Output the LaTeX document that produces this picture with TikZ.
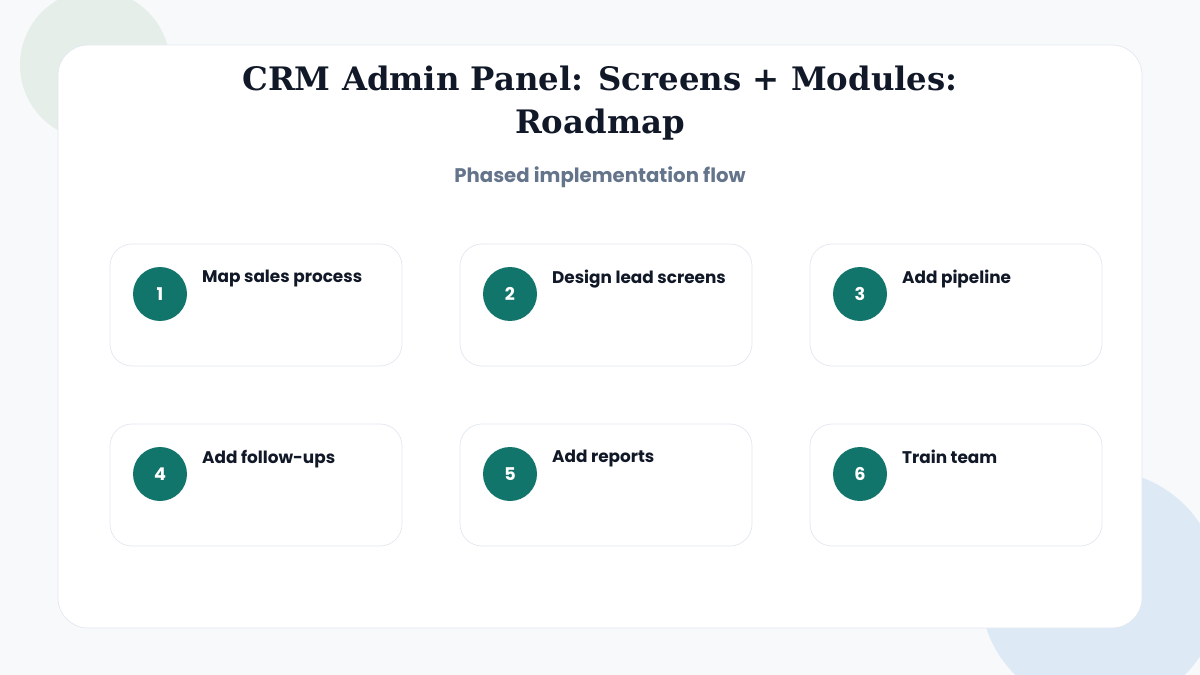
\documentclass[tikz,border=0pt]{standalone}
\usepackage{fontspec}
\setmainfont{DejaVu Serif}
\newfontfamily\cardfont{Poppins}
\usepackage{xcolor}
\usetikzlibrary{positioning}
\definecolor{navy}{HTML}{111827}
\definecolor{slate}{HTML}{64748B}
\definecolor{teal}{HTML}{11756C}
\definecolor{cardline}{HTML}{E3E8F0}
\definecolor{pagebg}{HTML}{F8F9FB}
\definecolor{blobgreen}{HTML}{E6EEEA}
\definecolor{blobblue}{HTML}{DDEAF6}
\tikzset{
    panel/.style = {draw=cardline, fill=white, rounded corners=30*0.05cm, line width=1pt},
    stepcard/.style = {draw=cardline, fill=white, rounded corners=22*0.05cm, line width=1pt,
        minimum width=292*0.05cm, minimum height=122*0.05cm, inner sep=0pt},
    badge/.style = {circle, fill=teal, text=white, minimum size=54*0.05cm, inner sep=0pt,
        font=\cardfont\bfseries\fontsize{25}{25}\selectfont},
    steplabel/.style = {anchor=north west, inner sep=0pt, text=navy,
        font=\cardfont\bfseries\fontsize{24}{28}\selectfont}
}
\begin{document}
\begin{tikzpicture}[x=0.05cm, y=-0.05cm]
    \useasboundingbox (0,0) rectangle (1200,675);
    % background
    \fill[pagebg] (0,0) rectangle (1200,675);
    \fill[blobgreen] (95,65) circle (75);
    \fill[blobblue] (1100,590) circle (120);
    \node [panel, minimum width=1084*0.05cm, minimum height=583*0.05cm] (panel) at (600,336.5) {};
    % title
    \node [text=navy, font=\bfseries\fontsize{46}{62}\selectfont, align=center] (title) at (600,103)
        {CRM Admin Panel: Screens + Modules:\\Roadmap};
    \node [text=slate, font=\cardfont\bfseries\fontsize{28}{28}\selectfont] (subtitle) at (600,177)
        {Phased implementation flow};
    % steps
    \foreach \i/\x/\y/\txt in {1/256/305/Map sales process, 2/606/305/Design lead screens,
        3/956/305/Add pipeline, 4/256/485/Add follow-ups, 5/606/485/Add reports, 6/956/485/Train team} {
        \node [stepcard] (card\i) at (\x,\y) {};
        \node [badge] (badge\i) at (\x-96,\y-11) {\i};
        \node [steplabel] (label\i) at (\x-54,\y-35) {\txt};
    }
\end{tikzpicture}
\end{document}
